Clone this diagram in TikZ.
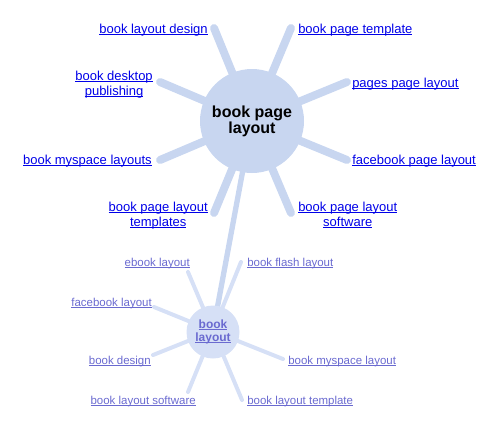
\documentclass[tikz,border=0pt]{standalone}
\usepackage{fontspec}
\setmainfont{Liberation Sans}
\usetikzlibrary{positioning}
\definecolor{hubblue}{RGB}{200,214,240}
\definecolor{subblue}{RGB}{214,224,246}
\definecolor{linkblue}{RGB}{0,0,232}
\definecolor{sublink}{RGB}{106,106,208}
% link text: thin rule just under the baseline
\newcommand{\lk}[1]{\setbox0=\hbox{#1}\rlap{\rule[-1.2pt]{\wd0}{0.7pt}}\box0}

\begin{document}
\begin{tikzpicture}[x=0.75pt, y=-0.75pt,
  hub/.style={circle, fill=hubblue, minimum size=78pt, inner sep=0pt, align=center, font=\bfseries\fontsize{12}{12}\selectfont},
  subhub/.style={circle, fill=subblue, minimum size=39.75pt, inner sep=0pt, align=center, text=sublink, font=\bfseries\fontsize{9}{9.75}\selectfont},
  spoke/.style={hubblue, line width=6pt, line cap=round},
  subspoke/.style={subblue, line width=3pt, line cap=round},
  lnk/.style={inner sep=0pt, align=center, text=linkblue, font=\fontsize{9.75}{11.25}\selectfont},
  sublnk/.style={inner sep=0pt, text=sublink, font=\fontsize{8.6}{10}\selectfont}
]
\useasboundingbox (0,0) rectangle (500,429);

% centres
\coordinate (c) at (252,121);
\coordinate (s) at (213,331);

% outer ends of the spokes
\coordinate (e1) at (214,28);
\coordinate (e2) at (160,82);
\coordinate (e3) at (160,160);
\coordinate (e4) at (214,213);
\coordinate (e5) at (291,28);
\coordinate (e6) at (347,82);
\coordinate (e7) at (347,160);
\coordinate (e8) at (291,213);

\coordinate (f1) at (188,272);
\coordinate (f2) at (154,307);
\coordinate (f3) at (153,355);
\coordinate (f4) at (188,392);
\coordinate (f5) at (241,262);
\coordinate (f6) at (283,359);
\coordinate (f7) at (242,400);

\foreach \i in {1,...,8}
  \draw[spoke] (c) -- (e\i);
\draw[hubblue, line width=4pt] (c) -- (s);
\foreach \i in {1,...,7}
  \draw[subspoke] (s) -- (f\i);

\node[hub] (main) at (c) {book page\\layout};
\node[subhub] (sub) at (213,332) {\lk{book}\\\lk{layout}};

% main links
\node[lnk, anchor=base east] (l1) at (208,33) {\lk{book layout design}};
\node[lnk, anchor=north east] (l2) at (153,71) {\lk{book desktop}\\\lk{publishing}};
\node[lnk, anchor=base east] (l3) at (152,164) {\lk{book myspace layouts}};
\node[lnk, anchor=north east] (l4) at (208,202) {\lk{book page layout}\\\lk{templates}};
\node[lnk, anchor=base west] (l5) at (298,33) {\lk{book page template}};
\node[lnk, anchor=base west] (l6) at (352,87) {\lk{pages page layout}};
\node[lnk, anchor=base west] (l7) at (352,164) {\lk{facebook page layout}};
\node[lnk, anchor=north west] (l8) at (298,202) {\lk{book page layout}\\\lk{software}};

% links round the small circle
\node[sublnk, anchor=base east] (m1) at (190,266) {\lk{ebook layout}};
\node[sublnk, anchor=base east] (m2) at (152,306) {\lk{facebook layout}};
\node[sublnk, anchor=base east] (m3) at (151,364) {\lk{book design}};
\node[sublnk, anchor=base east] (m4) at (196,404) {\lk{book layout software}};
\node[sublnk, anchor=base west] (m5) at (247,266) {\lk{book flash layout}};
\node[sublnk, anchor=base west] (m6) at (288,364) {\lk{book myspace layout}};
\node[sublnk, anchor=base west] (m7) at (247,404) {\lk{book layout template}};
\end{tikzpicture}
\end{document}
